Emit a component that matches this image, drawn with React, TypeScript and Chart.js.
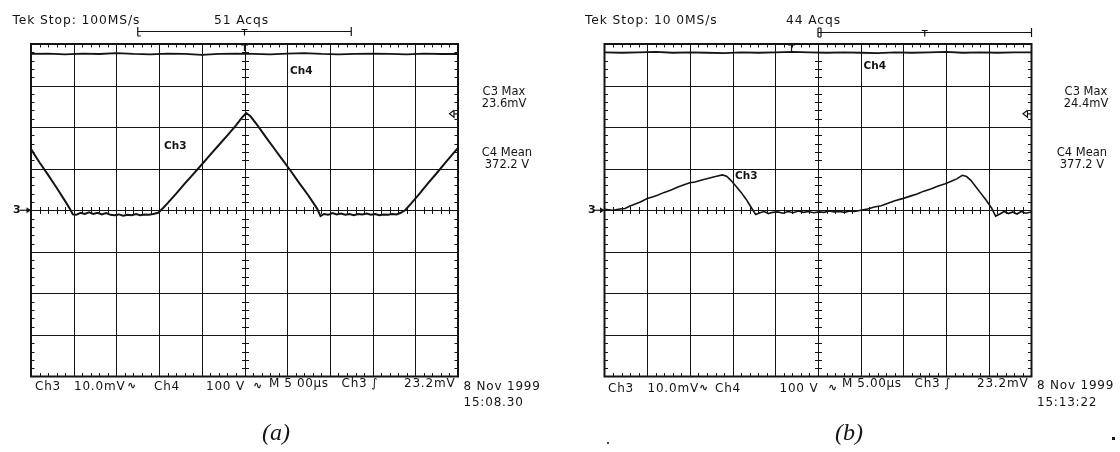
import React, { useEffect, useRef } from "react";
import { Chart, registerables } from "chart.js";

Chart.register(...registerables);

// ---------- graticule / scale values ----------
const TIME_GRID_US = [0, 5, 10, 15, 20, 25, 30, 35, 40, 45, 50];
const CH3_GRID_MV = [-40, -30, -20, -10, 0, 10, 20, 30, 40];
const CH4_GRID_V = [-400, 400];
const TRIGGER_LEVEL_MV = 23.2;

// ---------- panel (a) data ----------
const ch3aTimeUs = [
  0, 1, 2, 3, 4, 4.6, 4.9, 5.3, 5.8, 6.3, 6.8, 7.3, 7.8, 8.3, 8.8, 9.3, 9.8, 10.3, 10.8, 11.3,
  11.8, 12.3, 12.8, 13.3, 13.8, 14.3, 14.9, 15.5, 16, 17, 18, 19, 20, 21, 22, 23, 24, 24.7, 25.2,
  25.7, 26.5, 27.5, 28.5, 29.5, 30.5, 31.5, 32.5, 33.5, 33.9, 34.3, 34.8, 35.3, 35.8, 36.3, 36.8,
  37.3, 37.8, 38.3, 38.8, 39.3, 39.8, 40.3, 40.8, 41.3, 41.8, 42.3, 42.8, 43.3, 43.8, 44.5, 45.5,
  46.5, 47.5, 48.5, 49.5, 50,
];
const ch3aMv = [
  14.7, 11.5, 8.5, 5.4, 2.2, 0.2, -1.0, -1.1, -0.6, -0.9, -0.5, -0.9, -0.6, -1.0, -0.7, -1.1, -1.2, -1.0, -1.3, -1.1,
  -1.2, -0.9, -1.2, -1.0, -1.1, -0.9, -0.6, 0.6, 1.7, 4.0, 6.4, 8.7, 11.0, 13.4, 15.7, 18.0, 20.4, 22.3, 23.4,
  22.6, 20.5, 17.6, 14.8, 12.0, 9.2, 6.3, 3.5, 0.4, -1.4, -0.9, -1.1, -0.7, -1.0, -0.8, -1.1,
  -0.9, -1.2, -0.9, -1.0, -0.8, -1.1, -0.9, -1.2, -1.0, -1.1, -0.9, -1.0, -0.6, 0.0, 1.6, 4.0,
  6.5, 8.9, 11.4, 13.8, 15.0,
];
const ch4aTimeUs = [0, 2, 4, 6, 8, 10, 12, 14, 16, 18, 20, 22, 24, 26, 28, 30, 32, 34, 36, 38, 40, 42, 44, 46, 48, 50];
const ch4aV = [376, 377, 375, 377, 376, 378, 376, 375, 377, 376, 374, 376, 377, 376, 375, 377, 378, 376, 375, 376, 377, 376, 375, 377, 376, 376];

// ---------- panel (b) data ----------
const ch3bTimeUs = [
  0, 1, 1.8, 2.4, 3.0, 3.6, 4.2, 5.0, 5.6, 6.2, 7.0, 7.8, 8.6, 9.4, 10.0, 10.6, 11.4, 12.2, 13.0, 13.8,
  14.3, 14.8, 15.4, 16.0, 16.6, 17.2, 17.7, 18.2, 18.7, 19.2, 19.7, 20.3, 20.9, 21.5, 22.1, 22.7, 23.3,
  23.9, 24.5, 25.1, 25.7, 26.3, 26.9, 27.5, 28.1, 28.7, 29.3, 30.0, 30.8, 31.6, 32.4, 33.2, 34.0, 34.9,
  35.8, 36.6, 37.4, 38.2, 39.0, 39.9, 40.6, 41.3, 41.9, 42.4, 42.9, 43.5, 44.1, 44.7, 45.3, 45.8, 46.3,
  46.8, 47.3, 47.8, 48.3, 48.8, 49.3, 50,
];
const ch3bMv = [
  0.2, 0.0, 0.3, 0.4, 1.0, 1.5, 2.0, 2.8, 3.2, 3.6, 4.3, 4.9, 5.6, 6.2, 6.6, 6.8, 7.3, 7.7, 8.1, 8.5,
  8.2, 7.2, 5.8, 4.3, 2.6, 0.6, -1.0, -0.6, -0.3, -0.8, -0.5, -0.4, -0.7, -0.3, -0.6, -0.2, -0.5,
  -0.3, -0.6, -0.4, -0.5, -0.2, -0.4, -0.3, -0.5, -0.2, -0.3, 0.0, 0.3, 0.8, 1.1, 1.7, 2.3, 2.8,
  3.4, 3.9, 4.6, 5.1, 5.8, 6.4, 7.0, 7.6, 8.4, 8.1, 7.2, 5.6, 4.0, 2.4, 0.6, -1.4, -0.9,
  -0.3, -0.8, -0.4, -0.9, -0.3, -0.7, -0.4,
];
const ch4bTimeUs = [0, 2, 4, 6, 8, 10, 12, 14, 16, 18, 20, 22, 24, 26, 28, 30, 32, 34, 36, 38, 40, 42, 44, 46, 48, 50];
const ch4bV = [380, 379, 380, 381, 379, 380, 379, 378, 380, 379, 380, 381, 380, 379, 380, 379, 378, 380, 379, 380, 381, 379, 380, 379, 380, 380];

// record bracket (time on screen) and trigger position
const bracketA = [12.5, 37.5];
const bracketB = [25, 50];
const triggerPosA = 25;
const triggerPosB = 21.9;

// ---------- labels ----------
type Lbl = {
  text: string; x: number; y: number; size?: number; align?: "left" | "center";
  bold?: boolean; caption?: boolean; ls?: number;
};

const labels: Lbl[] = [
  // panel a
  { text: "Tek Stop: 100MS/s", x: 12.5, y: 20, size: 12.3, ls: 0.9 },
  { text: "51 Acqs", x: 214, y: 20, size: 12.3, ls: 0.9 },
  { text: "Ch4", x: 290, y: 70, size: 10.5, bold: true },
  { text: "Ch3", x: 164, y: 145, size: 10.5, bold: true },
  { text: "C3 Max", x: 504, y: 92, size: 11.5, align: "center" },
  { text: "23.6mV", x: 504, y: 104, size: 11.5, align: "center" },
  { text: "C4 Mean", x: 507, y: 153, size: 11.5, align: "center" },
  { text: "372.2 V", x: 507, y: 165, size: 11.5, align: "center" },
  { text: "3", x: 13, y: 210, size: 11, bold: true },
  { text: "Ch3", x: 35, y: 386, size: 12, ls: 0.8 },
  { text: "10.0mV", x: 74, y: 386, size: 12, ls: 0.8 },
  { text: "∿", x: 127, y: 386, size: 11, bold: true },
  { text: "Ch4", x: 154, y: 386, size: 12, ls: 0.8 },
  { text: "100 V", x: 206, y: 386, size: 12, ls: 0.8 },
  { text: "∿", x: 253, y: 386, size: 11, bold: true },
  { text: "M 5 00µs", x: 269, y: 383, size: 12, ls: 0.6 },
  { text: "Ch3", x: 341.5, y: 383, size: 12, ls: 0.8 },
  { text: "∫", x: 371, y: 383, size: 12 },
  { text: "23.2mV", x: 404, y: 383, size: 12, ls: 0.8 },
  { text: "8 Nov 1999", x: 463.5, y: 386, size: 12, ls: 0.8 },
  { text: "15:08.30", x: 463.5, y: 402.5, size: 12, ls: 0.8 },
  { text: "(a)", x: 276, y: 434, size: 24, align: "center", caption: true },
  // panel b
  { text: "Tek Stop: 10 0MS/s", x: 585, y: 20, size: 12.3, ls: 0.9 },
  { text: "44 Acqs", x: 786, y: 20, size: 12.3, ls: 0.9 },
  { text: "Ch4", x: 863.5, y: 65, size: 10.5, bold: true },
  { text: "Ch3", x: 735, y: 175, size: 10.5, bold: true },
  { text: "C3 Max", x: 1086, y: 92, size: 11.5, align: "center" },
  { text: "24.4mV", x: 1086, y: 104, size: 11.5, align: "center" },
  { text: "C4 Mean", x: 1082, y: 153, size: 11.5, align: "center" },
  { text: "377.2 V", x: 1082, y: 165, size: 11.5, align: "center" },
  { text: "3", x: 588, y: 210, size: 11, bold: true },
  { text: "Ch3", x: 608, y: 388, size: 12, ls: 0.8 },
  { text: "10.0mV", x: 647.5, y: 388, size: 12, ls: 0.8 },
  { text: "∿", x: 699, y: 388, size: 11, bold: true },
  { text: "Ch4", x: 715, y: 388, size: 12, ls: 0.8 },
  { text: "100 V", x: 779.5, y: 388, size: 12, ls: 0.8 },
  { text: "∿", x: 828, y: 388, size: 11, bold: true },
  { text: "M 5.00µs", x: 842, y: 383, size: 12, ls: 0.6 },
  { text: "Ch3", x: 914.5, y: 383, size: 12, ls: 0.8 },
  { text: "∫", x: 944, y: 383, size: 12 },
  { text: "23.2mV", x: 977, y: 383, size: 12, ls: 0.8 },
  { text: "8 Nov 1999", x: 1037, y: 385, size: 12, ls: 0.8 },
  { text: "15:13:22", x: 1037, y: 402, size: 12, ls: 0.8 },
  { text: "(b)", x: 849, y: 434, size: 24, align: "center", caption: true },
];

// ---------- panel config ----------
type Panel = {
  offset: number;
  pad: { left: number; right: number; top: number; bottom: number };
  ch3Time: number[]; ch3Mv: number[]; ch4Time: number[]; ch4V: number[];
  bracket: number[]; trigPos: number; doubleLeft: boolean; ch3Width: number; bracketGap: number;
};

const panels: Panel[] = [
  {
    offset: 0,
    pad: { left: 31, right: 102, top: 44, bottom: 75.5 },
    ch3Time: ch3aTimeUs, ch3Mv: ch3aMv, ch4Time: ch4aTimeUs, ch4V: ch4aV,
    bracket: bracketA, trigPos: triggerPosA, doubleLeft: false, ch3Width: 2, bracketGap: 12.5,
  },
  {
    offset: 560,
    pad: { left: 44.5, right: 88.5, top: 44, bottom: 75.5 },
    ch3Time: ch3bTimeUs, ch3Mv: ch3bMv, ch4Time: ch4bTimeUs, ch4V: ch4bV,
    bracket: bracketB, trigPos: triggerPosB, doubleLeft: true, ch3Width: 1.6, bracketGap: 11.5,
  },
];

const INK = "#141414";

function graticulePlugin(p: Panel) {
  return {
    id: "graticule",
    beforeDatasetsDraw(chart: any) {
      const { ctx, chartArea } = chart;
      const { left, right, top, bottom } = chartArea;
      const x = chart.scales.x;
      const y = chart.scales.y;
      ctx.save();
      ctx.strokeStyle = INK;
      ctx.lineWidth = 1;
      ctx.beginPath();
      const tMin = TIME_GRID_US[0];
      const tMax = TIME_GRID_US[TIME_GRID_US.length - 1];
      const vMin = CH3_GRID_MV[0];
      const vMax = CH3_GRID_MV[CH3_GRID_MV.length - 1];
      TIME_GRID_US.forEach((t) => {
        if (t === tMin || t === tMax) return;
        const px = Math.round(x.getPixelForValue(t)) + 0.5;
        ctx.moveTo(px, top);
        ctx.lineTo(px, bottom);
      });
      CH3_GRID_MV.forEach((v) => {
        if (v === vMin || v === vMax) return;
        const py = Math.round(y.getPixelForValue(v)) + 0.5;
        ctx.moveTo(left, py);
        ctx.lineTo(right, py);
      });
      ctx.stroke();

      // minor ticks (5 per division)
      const xc = Math.round(x.getPixelForValue((tMin + tMax) / 2)) + 0.5;
      const yc = Math.round(y.getPixelForValue(0)) + 0.5;
      ctx.beginPath();
      const tStep = (TIME_GRID_US[1] - TIME_GRID_US[0]) / 5;
      for (let t = tMin + tStep; t < tMax - 1e-6; t += tStep) {
        const px = Math.round(x.getPixelForValue(t)) + 0.5;
        ctx.moveTo(px, yc - 3.5); ctx.lineTo(px, yc + 3.5);
        ctx.moveTo(px, top); ctx.lineTo(px, top + 3.5);
        ctx.moveTo(px, bottom); ctx.lineTo(px, bottom - 3.5);
      }
      const vStep = (CH3_GRID_MV[1] - CH3_GRID_MV[0]) / 5;
      for (let v = vMin + vStep; v < vMax - 1e-6; v += vStep) {
        const py = Math.round(y.getPixelForValue(v)) + 0.5;
        ctx.moveTo(xc - 3.5, py); ctx.lineTo(xc + 3.5, py);
        ctx.moveTo(left, py); ctx.lineTo(left + 3.5, py);
        ctx.moveTo(right, py); ctx.lineTo(right - 3.5, py);
      }
      ctx.stroke();

      // border
      ctx.lineWidth = 2;
      ctx.strokeRect(left, top, right - left, bottom - top);
      ctx.restore();
    },
    afterDraw(chart: any) {
      const { ctx, chartArea } = chart;
      const { left, right, top } = chartArea;
      const x = chart.scales.x;
      const y = chart.scales.y;
      ctx.save();
      ctx.strokeStyle = INK;
      ctx.fillStyle = INK;
      ctx.lineWidth = 1.2;

      // record bracket above graticule
      const by = top - p.bracketGap;
      const bx0 = x.getPixelForValue(p.bracket[0]);
      const bx1 = x.getPixelForValue(p.bracket[1]);
      const bmid = x.getPixelForValue((p.bracket[0] + p.bracket[1]) / 2);
      ctx.beginPath();
      ctx.moveTo(bx0, by); ctx.lineTo(bx1, by);
      ctx.moveTo(bx0, by - 4.5); ctx.lineTo(bx0, by + 4.5);
      if (p.doubleLeft) { ctx.moveTo(bx0 + 3, by - 4.5); ctx.lineTo(bx0 + 3, by + 4.5); ctx.moveTo(bx0, by - 4.5); ctx.lineTo(bx0 + 3, by - 4.5); ctx.moveTo(bx0, by + 4.5); ctx.lineTo(bx0 + 3, by + 4.5); }
      else { ctx.moveTo(bx0, by + 4.5); ctx.lineTo(bx0 + 3, by + 4.5); }
      ctx.moveTo(bx1, by - 4.5); ctx.lineTo(bx1, by + 4.5);
      ctx.moveTo(bmid - 3, by - 2); ctx.lineTo(bmid + 3, by - 2);
      ctx.moveTo(bmid, by - 2); ctx.lineTo(bmid, by + 4);
      ctx.stroke();

      // trigger position marker at top of graticule
      const tp = x.getPixelForValue(p.trigPos);
      ctx.beginPath();
      ctx.moveTo(tp - 3.5, top + 1); ctx.lineTo(tp + 3.5, top + 1);
      ctx.moveTo(tp, top + 1); ctx.lineTo(tp, top + 7);
      ctx.stroke();

      // trigger level arrow at right edge
      const ty = y.getPixelForValue(TRIGGER_LEVEL_MV);
      ctx.beginPath();
      ctx.moveTo(right - 4, ty - 3.5);
      ctx.lineTo(right - 8.5, ty);
      ctx.lineTo(right - 4, ty + 3.5);
      ctx.lineTo(right - 4, ty - 3.5);
      ctx.moveTo(right - 4, ty); ctx.lineTo(right, ty);
      ctx.stroke();

      // ground reference arrow at left edge
      const gy = y.getPixelForValue(0);
      ctx.beginPath();
      ctx.moveTo(left - 11, gy); ctx.lineTo(left - 1, gy);
      ctx.stroke();
      ctx.beginPath();
      ctx.moveTo(left, gy); ctx.lineTo(left - 4.5, gy - 3); ctx.lineTo(left - 4.5, gy + 3);
      ctx.closePath();
      ctx.fill();
      ctx.restore();
    },
  };
}

function makeConfig(p: Panel): any {
  return {
    type: "line",
    data: {
      datasets: [
        {
          label: "Ch4",
          data: p.ch4Time.map((t, i) => ({ x: t, y: p.ch4V[i] })),
          yAxisID: "y4",
          borderColor: INK,
          borderWidth: 1.8,
          pointRadius: 0,
          tension: 0,
        },
        {
          label: "Ch3",
          data: p.ch3Time.map((t, i) => ({ x: t, y: p.ch3Mv[i] })),
          yAxisID: "y",
          borderColor: INK,
          borderWidth: p.ch3Width,
          pointRadius: 0,
          tension: 0,
        },
      ],
    },
    options: {
      animation: false,
      responsive: false,
      devicePixelRatio: 1,
      events: [],
      layout: { padding: p.pad },
      plugins: { legend: { display: false }, tooltip: { enabled: false }, title: { display: false } },
      scales: {
        x: { type: "linear", min: TIME_GRID_US[0], max: TIME_GRID_US[TIME_GRID_US.length - 1], display: false },
        y: { type: "linear", min: CH3_GRID_MV[0], max: CH3_GRID_MV[CH3_GRID_MV.length - 1], display: false },
        y4: { type: "linear", min: CH4_GRID_V[0], max: CH4_GRID_V[1], display: false },
      },
    },
    plugins: [graticulePlugin(p)],
  };
}

function Scope({ panel }: { panel: Panel }) {
  const ref = useRef<HTMLCanvasElement>(null);
  useEffect(() => {
    const chart = new Chart(ref.current as HTMLCanvasElement, makeConfig(panel));
    return () => chart.destroy();
  }, [panel]);
  return (
    <canvas
      ref={ref}
      width={560}
      height={452}
      style={{ position: "absolute", left: panel.offset, top: 0, width: 560, height: 452, display: "block" }}
    />
  );
}

function Label({ l }: { l: Lbl }) {
  const size = l.size ?? 11;
  const center = l.align === "center";
  const topFactor = l.caption ? 0.6 : 0.52;
  return (
    <div
      style={{
        position: "absolute",
        left: center ? l.x - 100 : l.x,
        width: center ? 200 : undefined,
        top: l.y - size * topFactor,
        fontFamily: l.caption ? '"Liberation Serif", "DejaVu Serif", serif' : '"DejaVu Sans", sans-serif',
        fontStyle: l.caption ? "italic" : "normal",
        fontWeight: l.bold ? 700 : 400,
        fontSize: size,
        lineHeight: `${size}px`,
        letterSpacing: l.ls ?? 0,
        textAlign: center ? "center" : "left",
        whiteSpace: "pre",
        color: INK,
      }}
    >
      {l.text}
    </div>
  );
}

export default function App() {
  return (
    <div
      style={{
        position: "fixed",
        left: 0,
        top: 0,
        width: 1120,
        height: 452,
        background: "#ffffff",
        overflow: "hidden",
      }}
    >
      {panels.map((p, i) => (
        <Scope key={i} panel={p} />
      ))}
      {labels.map((l, i) => (
        <Label key={i} l={l} />
      ))}
      <div style={{ position: "absolute", left: 607, top: 442, width: 2, height: 2, background: "#444" }} />
      <div style={{ position: "absolute", left: 1112, top: 437, width: 3, height: 3, background: INK }} />
    </div>
  );
}
